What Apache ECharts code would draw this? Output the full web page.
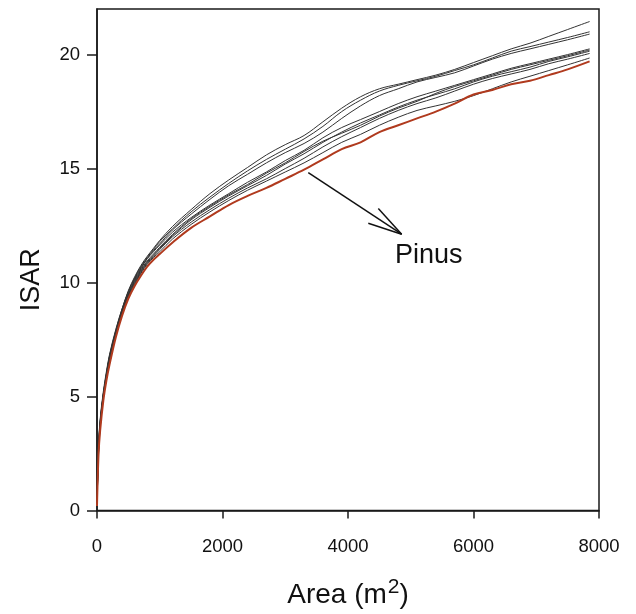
<!DOCTYPE html>
<html>
<head>
<meta charset="utf-8">
<script src="https://cdn.jsdelivr.net/npm/echarts@6/dist/echarts.min.js"></script>
<style>
html,body{margin:0;padding:0;background:#fff;}
#c{width:636px;height:614px;}
</style>
</head>
<body>
<div id="c"></div>
<script>
// Area (m^2) sampling positions shared by all curves
var area = [0, 25, 50, 100, 150, 200, 300, 400, 500, 600, 700, 800, 900, 1000, 1200, 1500, 1800, 2100, 2400, 2700, 3000, 3300, 3600, 3900, 4200, 4500, 4800, 5100, 5400, 5700, 6000, 6300, 6600, 6900, 7200, 7500, 7850];

// Pinus (highlighted, red)
var pinus = [0.2, 2.5, 3.5, 4.8, 5.7, 6.4, 7.6, 8.55, 9.3, 9.85, 10.3, 10.7, 11.0, 11.25, 11.75, 12.4, 12.9, 13.4, 13.8, 14.15, 14.55, 14.95, 15.4, 15.85, 16.15, 16.6, 16.9, 17.2, 17.5, 17.85, 18.25, 18.45, 18.7, 18.85, 19.1, 19.35, 19.7];

// other species (black)
var spA = [0.3, 2.8, 3.9, 5.1, 6.0, 6.8, 7.9, 8.85, 9.65, 10.25, 10.75, 11.15, 11.5, 11.85, 12.45, 13.2, 13.9, 14.5, 15.05, 15.6, 16.05, 16.45, 17.05, 17.65, 18.15, 18.5, 18.7, 18.9, 19.1, 19.35, 19.65, 19.95, 20.25, 20.5, 20.8, 21.1, 21.45];
var spB = [0.2, 2.6, 3.7, 5.0, 5.9, 6.7, 7.85, 8.8, 9.6, 10.2, 10.7, 11.1, 11.45, 11.8, 12.35, 13.1, 13.75, 14.35, 14.9, 15.4, 15.85, 16.3, 16.85, 17.5, 18.0, 18.4, 18.65, 18.85, 19.05, 19.3, 19.55, 19.85, 20.15, 20.35, 20.55, 20.75, 21.0];
var spC = [0.25, 2.7, 3.8, 5.05, 5.95, 6.75, 7.8, 8.75, 9.5, 10.1, 10.6, 11.05, 11.4, 11.7, 12.3, 13.0, 13.65, 14.25, 14.75, 15.25, 15.7, 16.1, 16.6, 17.2, 17.75, 18.2, 18.5, 18.8, 19.0, 19.2, 19.5, 19.8, 20.05, 20.25, 20.45, 20.65, 20.9];
var spD = [0.3, 2.9, 4.0, 5.2, 6.1, 6.85, 7.95, 8.85, 9.6, 10.15, 10.65, 11.05, 11.35, 11.65, 12.2, 12.85, 13.4, 13.9, 14.4, 14.85, 15.35, 15.8, 16.35, 16.8, 17.15, 17.5, 17.85, 18.15, 18.4, 18.65, 18.9, 19.15, 19.4, 19.6, 19.8, 20.0, 20.25];
var spE = [0.2, 2.6, 3.7, 5.0, 5.85, 6.6, 7.75, 8.7, 9.45, 10.0, 10.5, 10.9, 11.2, 11.5, 12.05, 12.75, 13.3, 13.8, 14.25, 14.7, 15.2, 15.65, 16.15, 16.6, 17.0, 17.35, 17.7, 18.0, 18.25, 18.5, 18.8, 19.05, 19.25, 19.45, 19.7, 19.9, 20.15];
var spF = [0.25, 2.7, 3.8, 5.05, 5.9, 6.65, 7.8, 8.65, 9.4, 9.95, 10.45, 10.85, 11.15, 11.45, 12.0, 12.65, 13.2, 13.7, 14.15, 14.55, 15.0, 15.45, 15.95, 16.4, 16.8, 17.2, 17.55, 17.85, 18.1, 18.4, 18.7, 18.95, 19.15, 19.35, 19.6, 19.8, 20.05];
var spH = [0.3, 2.8, 3.9, 5.1, 6.0, 6.75, 7.85, 8.75, 9.5, 10.05, 10.55, 10.95, 11.25, 11.55, 12.1, 12.8, 13.35, 13.85, 14.3, 14.8, 15.25, 15.75, 16.2, 16.55, 16.9, 17.3, 17.65, 17.95, 18.3, 18.6, 18.85, 19.1, 19.35, 19.55, 19.75, 19.95, 20.2];
var spG = [0.2, 2.5, 3.6, 4.9, 5.8, 6.55, 7.7, 8.6, 9.35, 9.9, 10.4, 10.8, 11.1, 11.35, 11.9, 12.55, 13.1, 13.6, 14.05, 14.45, 14.85, 15.25, 15.7, 16.15, 16.5, 16.9, 17.25, 17.55, 17.75, 17.95, 18.2, 18.5, 18.8, 19.05, 19.3, 19.55, 19.85];

var blackSeries = [spA, spB, spC, spD, spE, spF, spH, spG];

// axis ticks
var xTicks = [0, 2000, 4000, 6000, 8000];
var yTicks = [0, 5, 10, 15, 20];

// annotation (data coordinates): arrow shaft + head, and label
var arrowStart = [3367, 14.82];
var arrowTip = [4855, 12.12];
var arrowHead1 = [4483, 13.25];
var arrowHead2 = [4323, 12.6];
var labelPos = [4749, 11.2];
var labelText = 'Pinus';

function pairs(ys) {
  return area.map(function (x, i) { return [x, ys[i]]; });
}

var FONT = '"Liberation Sans", Arial, sans-serif';
var series = blackSeries.map(function (ys) {
  return {
    type: 'line', data: pairs(ys), showSymbol: false, symbol: 'none',
    smooth: 0.35,
    lineStyle: { color: '#333333', width: 1 }, silent: true, z: 2
  };
});
series.push({
  type: 'line', data: pairs(pinus), showSymbol: false, symbol: 'none',
  smooth: 0.35,
  lineStyle: { color: '#b03a1e', width: 2 }, silent: true, z: 3,
  markLine: {
    silent: true, symbol: 'none', animation: false,
    label: { show: false },
    lineStyle: { color: '#111', width: 1.5, type: 'solid' },
    data: [
      [{ coord: arrowStart }, { coord: arrowTip }],
      [{ coord: arrowHead1 }, { coord: arrowTip }],
      [{ coord: arrowHead2 }, { coord: arrowTip }]
    ]
  },
  markPoint: {
    silent: true, symbol: 'circle', symbolSize: 0, animation: false,
    data: [{ coord: labelPos, value: labelText }],
    label: { show: true, position: 'right', distance: 0, formatter: labelText,
      color: '#111', fontSize: 27, fontFamily: FONT }
  }
});

var chart = echarts.init(document.getElementById('c'), null, { renderer: 'canvas' });
chart.setOption({
  animation: false,
  backgroundColor: '#fff',
  grid: { left: 97, right: 37, top: 9, bottom: 102, show: true, borderColor: '#1a1a1a', borderWidth: 1.5, backgroundColor: 'transparent' },
  xAxis: {
    type: 'value', min: 0, max: 8000, interval: 2000,
    name: 'Area (m{sup|2})', nameLocation: 'middle', nameGap: 66,
    nameTextStyle: { fontSize: 28, color: '#111', fontFamily: FONT,
      rich: { sup: { fontSize: 21, verticalAlign: 'top', padding: [0, 0, 16, 1], color: '#111', fontFamily: FONT } } },
    axisLine: { show: true, lineStyle: { color: '#1a1a1a', width: 1.5 } },
    axisTick: { show: true, inside: false, length: 8, lineStyle: { color: '#1a1a1a', width: 1.5 }, customValues: xTicks },
    axisLabel: { margin: 27, fontSize: 18.5, color: '#111', fontFamily: FONT, customValues: xTicks,
      formatter: function (v) { return String(v); } },
    splitLine: { show: false }
  },
  yAxis: {
    type: 'value', min: 0, max: 22, interval: 5,
    name: 'ISAR', nameLocation: 'middle', nameGap: 52, nameRotate: 90,
    nameTextStyle: { fontSize: 27, color: '#111', fontFamily: FONT, padding: [0, 40, 0, 0] },
    axisLine: { show: true, lineStyle: { color: '#1a1a1a', width: 1.5 } },
    axisTick: { show: true, inside: false, length: 10, lineStyle: { color: '#1a1a1a', width: 1.5 }, customValues: yTicks },
    axisLabel: { margin: 17, fontSize: 18.5, color: '#111', fontFamily: FONT, customValues: yTicks,
      formatter: function (v) { return String(v); } },
    splitLine: { show: false }
  },
  series: series
});
</script>
</body>
</html>
